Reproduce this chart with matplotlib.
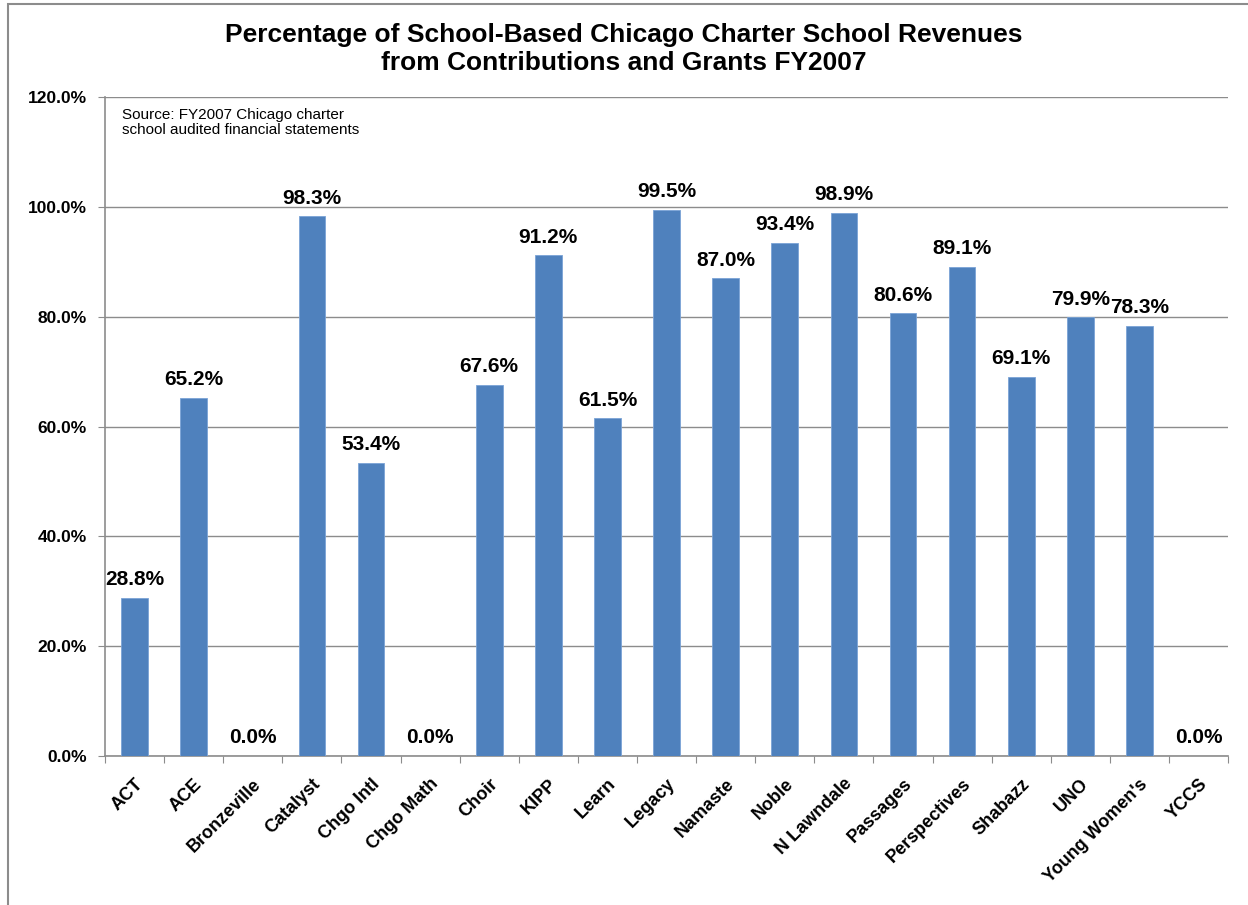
import matplotlib
matplotlib.use('Agg')
import matplotlib.pyplot as plt
from matplotlib.patches import Rectangle
from matplotlib.ticker import FuncFormatter

schools = ['ACT', 'ACE', 'Bronzeville', 'Catalyst', 'Chgo Intl', 'Chgo Math', 'Choir',
           'KIPP', 'Learn', 'Legacy', 'Namaste', 'Noble', 'N Lawndale', 'Passages',
           'Perspectives', 'Shabazz', 'UNO', "Young Women's", 'YCCS']
pct = [28.8, 65.2, 0.0, 98.3, 53.4, 0.0, 67.6, 91.2, 61.5, 99.5, 87.0, 93.4, 98.9,
       80.6, 89.1, 69.1, 79.9, 78.3, 0.0]

plt.rcParams['font.family'] = ['Liberation Sans', 'DejaVu Sans']

fig = plt.figure(figsize=(12.48, 9.05), dpi=100)
# outer chart frame, running off the right and bottom edges
fig.patches.append(Rectangle((8 / 1248, -0.1), 1.2, 1 - 4 / 905 + 0.1, transform=fig.transFigure,
                             fill=False, edgecolor='#8c8c8c', linewidth=1.5))
ax = fig.add_axes([0.0841, 0.1646, 0.9000, 0.7282])

x = list(range(len(schools)))
ax.bar(x, pct, width=0.45, color='#4F81BD', edgecolor='#7aa3d6', linewidth=0.6, zorder=3)
for xi, v in zip(x, pct):
    ax.text(xi, v + 2.3, f'{v:.1f}%', ha='center', va='baseline', fontsize=15, fontweight='bold')

ax.set_xlim(-0.5, len(schools) - 0.5)
ax.set_ylim(0, 120)
ax.set_yticks(range(0, 121, 20))
ax.yaxis.set_major_formatter(FuncFormatter(lambda v, p: f'{v:.1f}%'))
ax.yaxis.grid(True, color='#8c8c8c', linewidth=1, zorder=0)
ax.set_xticks([i - 0.5 for i in range(len(schools) + 1)], minor=False)
ax.set_xticklabels([])
ax.set_xticks(x, minor=True)
ax.set_xticklabels(schools, minor=True, rotation=45, ha='right', rotation_mode='anchor',
                   fontsize=13, fontweight='bold')
ax.tick_params(axis='x', which='minor', length=0, pad=14)
ax.tick_params(axis='x', which='major', length=5, color='#8c8c8c', direction='out')
ax.tick_params(axis='y', length=5, color='#8c8c8c', labelsize=12.5, pad=8)
for lbl in ax.get_yticklabels():
    lbl.set_fontweight('bold')
for s in ['top', 'right']:
    ax.spines[s].set_visible(False)
for s in ['left', 'bottom']:
    ax.spines[s].set_color('#8c8c8c')
    ax.spines[s].set_linewidth(1.2)

ax.text(0.015, 0.983, 'Source: FY2007 Chicago charter\nschool audited financial statements',
        transform=ax.transAxes, ha='left', va='top', fontsize=11, linespacing=1.05)

fig.text(0.5, 0.975, 'Percentage of School-Based Chicago Charter School Revenues\nfrom Contributions and Grants FY2007',
         ha='center', va='top', fontsize=19, fontweight='bold', linespacing=1.25)

fig.savefig('out.png', dpi=100)
